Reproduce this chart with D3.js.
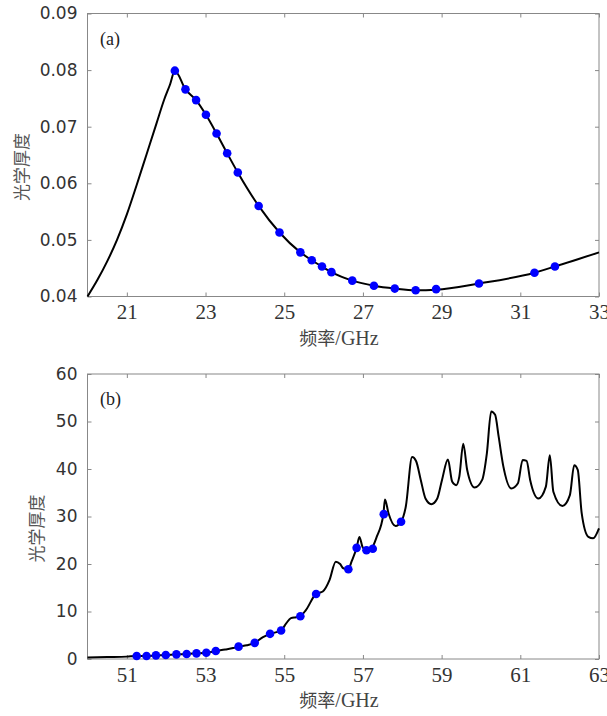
<!DOCTYPE html>
<html lang="zh">
<head>
<meta charset="UTF-8">
<title>光学厚度</title>
<script src="https://d3js.org/d3.v7.min.js"></script>
<style>
  body { margin: 0; background: #fff; }
  .ytick text { font-family: "DejaVu Sans", sans-serif; font-size: 17px; fill: #333; }
  .xtick text { font-family: "Liberation Serif", serif; font-size: 21px; fill: #333; }
  .tick line { stroke: #888; }
</style>
</head>
<body>
<script>
// panel (a): 20-33 GHz
const lineA = [[20, 0.0400], [20.25, 0.0429], [20.5, 0.0462], [20.75, 0.0500], [21.0, 0.0545],
  [21.25, 0.0597], [21.5, 0.0651], [21.75, 0.0705], [21.95, 0.0748], [22.1, 0.0775],
  [22.22, 0.0799], [22.49, 0.0766], [22.76, 0.0747],
  [23.01, 0.0721], [23.28, 0.0688], [23.55, 0.0653], [23.82, 0.0619], [24.35, 0.0560],
  [24.88, 0.0513], [25.41, 0.0478], [25.70, 0.0464], [25.96, 0.0453], [26.20, 0.0443],
  [26.73, 0.0428], [27.28, 0.0419], [27.81, 0.0414], [28.34, 0.0411], [28.86, 0.0412],
  [29.95, 0.0423], [31.36, 0.0442], [31.88, 0.0453], [33, 0.0478]];
const pointsA = [[22.22, 0.0799], [22.49, 0.0766], [22.76, 0.0747], [23.01, 0.0721], [23.28, 0.0688],
  [23.55, 0.0653], [23.82, 0.0619], [24.35, 0.0560], [24.88, 0.0513], [25.41, 0.0478],
  [25.70, 0.0464], [25.96, 0.0453], [26.20, 0.0443], [26.73, 0.0428], [27.28, 0.0419],
  [27.81, 0.0414], [28.34, 0.0411], [28.86, 0.0413], [29.95, 0.0423], [31.36, 0.0442],
  [31.88, 0.0453]];
const xTicksA = [21, 23, 25, 27, 29, 31, 33];
const yTicksA = [0.04, 0.05, 0.06, 0.07, 0.08, 0.09];

// panel (b): 50-63 GHz
const lineB = [[50, 0.3], [50.5, 0.4], [51.0, 0.5], [51.25, 0.63], [51.5, 0.63], [51.74, 0.77],
  [51.99, 0.84], [52.26, 0.98], [52.52, 1.05], [52.77, 1.19], [53.02, 1.33], [53.26, 1.68],
  [53.5, 2.0], [53.7, 2.3], [53.84, 2.6], [54.05, 2.9], [54.25, 3.4], [54.46, 4.6], [54.64, 5.3],
  [54.92, 6.0], [55.05, 7.5], [55.17, 8.6], [55.3, 8.8], [55.41, 9.0], [55.55, 10.3],
  [55.81, 13.7], [55.98, 14.2], [56.15, 16.6], [56.31, 20.5], [56.42, 20.0], [56.5, 19.1],
  [56.63, 18.9], [56.71, 20.5], [56.84, 23.4], [56.91, 25.7], [56.99, 23.6], [57.09, 22.9],
  [57.22, 23.3], [57.35, 25.7], [57.52, 30.5], [57.56, 33.6], [57.65, 30.7], [57.83, 28.0],
  [57.97, 28.9], [58.09, 32.1], [58.25, 42.5], [58.35, 41.7], [58.47, 37.7], [58.59, 33.8],
  [58.74, 32.6], [58.89, 33.8], [59.01, 37.7], [59.16, 42.0], [59.27, 37.3], [59.37, 36.6],
  [59.45, 38.4], [59.55, 45.3], [59.65, 39.8], [59.84, 36.1], [60.03, 37.7], [60.15, 43.3],
  [60.26, 52.1], [60.36, 51.4], [60.45, 46.8], [60.57, 40.5], [60.77, 35.9], [60.94, 37.0],
  [61.06, 41.9], [61.16, 41.7], [61.25, 37.7], [61.46, 33.8], [61.65, 36.3], [61.75, 42.9],
  [61.84, 35.2], [62.07, 32.2], [62.26, 34.5], [62.37, 40.8], [62.46, 39.8], [62.56, 30.7],
  [62.73, 25.7], [62.85, 25.4], [63, 27.5]];
const pointsB = [[51.25, 0.63], [51.5, 0.63], [51.74, 0.77], [51.99, 0.84], [52.26, 0.98],
  [52.52, 1.05], [52.77, 1.19], [53.02, 1.33], [53.26, 1.68], [53.84, 2.6], [54.25, 3.4],
  [54.64, 5.3], [54.92, 6.0], [55.41, 9.0], [55.81, 13.7], [56.63, 18.9], [56.84, 23.4],
  [57.09, 22.9], [57.25, 23.2], [57.53, 30.5], [57.97, 28.9]];
const xTicksB = [51, 53, 55, 57, 59, 61, 63];
const yTicksB = [0, 10, 20, 30, 40, 50, 60];

const W = 607, H = 716;
const svg = d3.select("body").append("svg")
  .attr("width", W).attr("height", H);

function panel(cfg) {
  const left = 87.5, right = 599;
  const x = d3.scaleLinear().domain(cfg.xDomain).range([left, right]);
  const y = d3.scaleLinear().domain(cfg.yDomain).range([cfg.bottom, cfg.top]);
  const g = svg.append("g");

  // frame
  g.append("rect")
    .attr("x", left).attr("y", cfg.top)
    .attr("width", right - left).attr("height", cfg.bottom - cfg.top)
    .attr("fill", "none").attr("stroke", "#888").attr("stroke-width", 1);

  // ticks point inward on all four sides
  const bx = g.append("g").attr("class", "xtick")
    .attr("transform", `translate(0,${cfg.bottom})`)
    .call(d3.axisBottom(x).tickValues(cfg.xTicks).tickSize(-4).tickPadding(8).tickFormat(d3.format("d")));
  bx.select(".domain").remove();
  const tx = g.append("g")
    .attr("transform", `translate(0,${cfg.top})`)
    .call(d3.axisTop(x).tickValues(cfg.xTicks).tickSize(-4).tickFormat(""));
  tx.select(".domain").remove();
  const ly = g.append("g").attr("class", "ytick")
    .attr("transform", `translate(${left},0)`)
    .call(d3.axisLeft(y).tickValues(cfg.yTicks).tickSize(-4).tickPadding(10).tickFormat(cfg.yFormat));
  ly.select(".domain").remove();
  const ry = g.append("g")
    .attr("transform", `translate(${right},0)`)
    .call(d3.axisRight(y).tickValues(cfg.yTicks).tickSize(-4).tickFormat(""));
  ry.select(".domain").remove();
  g.selectAll(".tick line").attr("stroke", "#888");

  const line = d3.line()
    .x(d => x(d[0])).y(d => y(d[1]))
    .curve(d3.curveMonotoneX);
  g.append("path").datum(cfg.line)
    .attr("d", line)
    .attr("fill", "none").attr("stroke", "#000").attr("stroke-width", 2);

  g.selectAll(".pt").data(cfg.points).enter().append("circle")
    .attr("class", "pt")
    .attr("cx", d => x(d[0])).attr("cy", d => y(d[1]))
    .attr("r", 4.3).attr("fill", "#0000ff");

  g.append("text")
    .attr("x", 100).attr("y", cfg.top + 31)
    .attr("font-family", "Liberation Serif, serif").attr("font-size", 18).attr("fill", "#222")
    .text(cfg.tag);

  const xl = g.append("text")
    .attr("x", 339).attr("y", cfg.bottom + 48)
    .attr("text-anchor", "middle").attr("fill", "#444");
  xl.append("tspan").attr("font-family", "Noto Sans CJK SC, sans-serif").attr("font-size", 18).text("频率");
  xl.append("tspan").attr("font-family", "Liberation Serif, serif").attr("font-size", 20).text("/GHz");

  g.append("text")
    .attr("transform", `translate(${cfg.ylabX},${(cfg.top + cfg.bottom) / 2 + 12}) rotate(-90)`)
    .attr("text-anchor", "middle")
    .attr("font-family", "Noto Sans CJK SC, sans-serif").attr("font-size", 17).attr("fill", "#555")
    .text("光学厚度");
}

panel({
  xDomain: [20, 33], yDomain: [0.04, 0.09], top: 13.5, bottom: 296.5,
  xTicks: xTicksA, yTicks: yTicksA, yFormat: d3.format(".2f"),
  line: lineA, points: pointsA, tag: "(a)", ylabX: 28
});
panel({
  xDomain: [50, 63], yDomain: [0, 60], top: 374, bottom: 659,
  xTicks: xTicksB, yTicks: yTicksB, yFormat: d3.format("d"),
  line: lineB, points: pointsB, tag: "(b)", ylabX: 43
});
</script>
</body>
</html>
